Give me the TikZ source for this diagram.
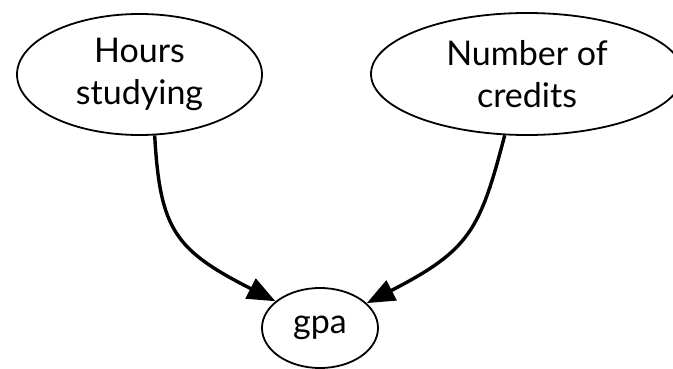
\documentclass[tikz,border=0pt]{standalone}
\usepackage{fontspec}
\setmainfont{Lato}
\usetikzlibrary{shapes.geometric,arrows.meta}
\begin{document}
\begin{tikzpicture}[x=1pt,y=-1pt,
  var/.style={ellipse,draw,line width=1.8pt,inner sep=0pt,align=center,
    font=\fontsize{34}{42}\selectfont},
  cause/.style={line width=3.4pt,-{Triangle[length=28pt,width=22pt]}}]
\useasboundingbox (0,0) rectangle (673,369);
\begin{scope}
\clip (0,0) rectangle (673,369);
\node[var,minimum width=245pt,minimum height=121pt] (hours) at (139.5,74.5) {Hours\\studying};
\node[var,minimum width=312pt,minimum height=122pt] (credits) at (527,74) {Number of\\credits};
\node[var,minimum width=116pt,minimum height=80pt] (gpa) at (320,328) {gpa};
\end{scope}
\draw[cause] (hours.-76) .. controls (160,230) and (175,250) .. (gpa.149);
\draw[cause] (credits.-110.7) .. controls (480,230) and (470,250) .. (gpa.28.4);
\end{tikzpicture}
\end{document}
